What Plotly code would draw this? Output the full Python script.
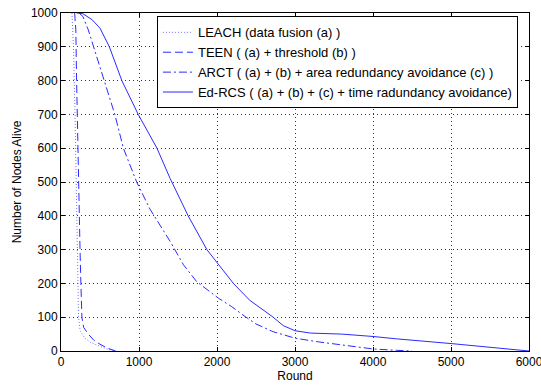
import plotly.graph_objects as go

# ---- data ----
leach_x = [140, 160, 180, 195, 205, 215, 225, 245, 300, 380, 500, 600, 700]
leach_y = [1000, 900, 700, 450, 300, 150, 100, 60, 40, 25, 15, 5, 0]

teen_x = [175, 190, 200, 215, 230, 244, 255, 268, 290, 350, 420, 500, 600, 700]
teen_y = [1000, 950, 800, 600, 400, 300, 200, 100, 70, 50, 32, 20, 8, 0]

arct_x = [230, 280, 350, 420, 560, 690, 800, 970, 1140, 1310, 1400, 1570, 1740,
          2020, 2190, 2360, 2500, 2720, 3000, 3300, 3580, 4000, 4300, 4500]
arct_y = [1000, 990, 950, 900, 800, 700, 600, 500, 420, 358, 324, 255, 205,
          156, 131, 102, 80, 57, 38, 27, 18, 6, 2, 0]

edrcs_x = [200, 280, 400, 500, 620, 780, 990, 1120, 1230, 1400, 1630, 1870, 2010, 2210,
           2420, 2720, 2850, 3000, 3200, 3600, 4000, 4300, 5000, 5500, 5800, 6000]
edrcs_y = [1000, 998, 980, 955, 900, 800, 700, 645, 600, 510, 400, 300, 260, 200,
           150, 100, 75, 60, 53, 50, 43, 36, 22, 12, 6, 0]

x_ticks = [0, 1000, 2000, 3000, 4000, 5000, 6000]
y_ticks = [0, 100, 200, 300, 400, 500, 600, 700, 800, 900, 1000]

names = ["LEACH (data fusion (a) )",
         "TEEN ( (a) + threshold (b) )",
         "ARCT ( (a) + (b) + area redundancy avoidance (c) )",
         "Ed-RCS ( (a) + (b) + (c) + time radundancy avoidance)"]

blue = "#2b2bff"
fig = go.Figure()
fig.add_trace(go.Scatter(x=leach_x, y=leach_y, mode="lines", name=names[0],
                         line=dict(color="#6f6fff", width=1, dash="1px,2px")))
fig.add_trace(go.Scatter(x=teen_x, y=teen_y, mode="lines", name=names[1],
                         line=dict(color=blue, width=1, dash="8px,4px")))
fig.add_trace(go.Scatter(x=arct_x, y=arct_y, mode="lines", name=names[2],
                         line=dict(color=blue, width=1, dash="8px,3px,2px,3px")))
fig.add_trace(go.Scatter(x=edrcs_x, y=edrcs_y, mode="lines", name=names[3],
                         line=dict(color=blue, width=1, dash="solid")))

axis_common = dict(showline=True, linecolor="black", linewidth=1, mirror="ticks",
                   ticks="inside", ticklen=4, tickcolor="black",
                   showgrid=True, gridcolor="#333333", griddash="1px,3px", gridwidth=1,
                   zeroline=False, automargin=False,
                   tickfont=dict(family="Liberation Sans, Arial", size=12, color="black"))

fig.update_layout(
    width=541, height=385,
    margin=dict(l=61, r=12, t=13, b=34),
    paper_bgcolor="white", plot_bgcolor="white",
    font=dict(family="Liberation Sans, Arial", size=12, color="black"),
    xaxis=dict(range=[0, 6000], tickvals=x_ticks, ticklabeloverflow="allow",
               title=dict(text="Round", standoff=2, font=dict(size=12)),
               **axis_common),
    yaxis=dict(range=[0, 1000], tickvals=y_ticks,
               title=dict(text="Number of Nodes Alive", standoff=6, font=dict(size=12)),
               **axis_common),
    legend=dict(x=0.205, y=0.99, xanchor="left", yanchor="top",
                bgcolor="white", bordercolor="black", borderwidth=1,
                font=dict(size=13), itemwidth=30, tracegroupgap=0),
    showlegend=True,
)

fig.write_html("out.html")
